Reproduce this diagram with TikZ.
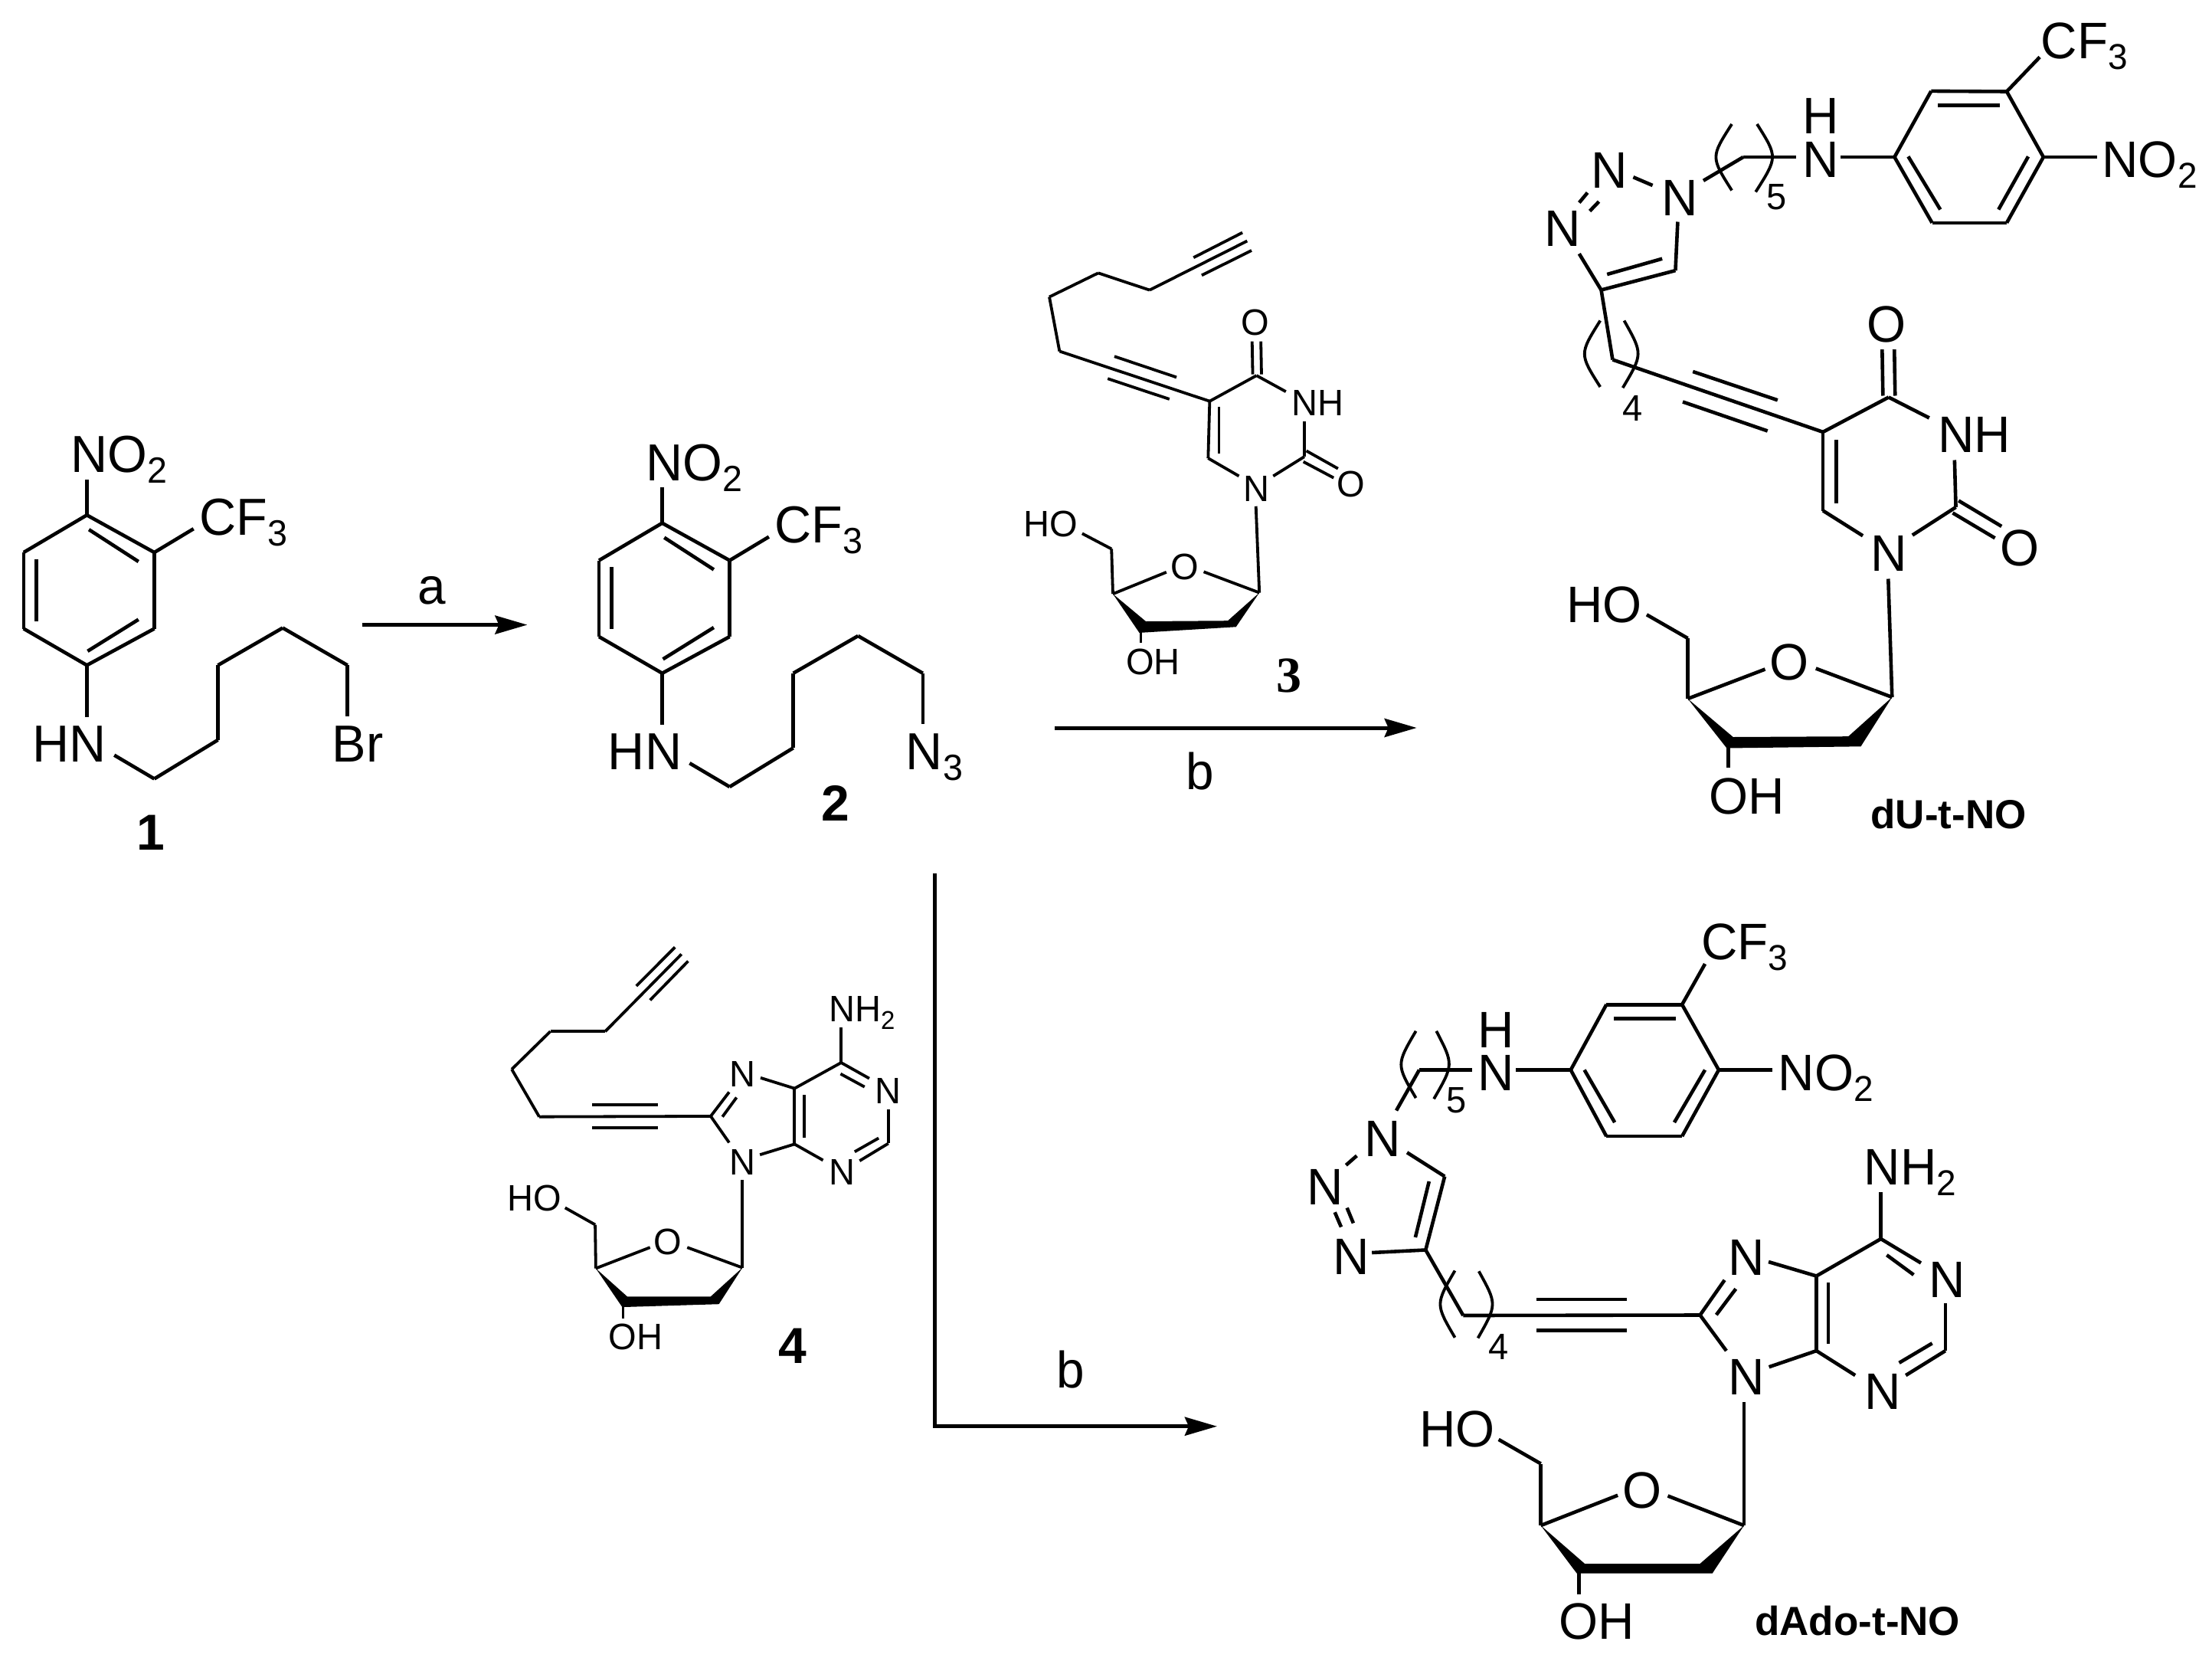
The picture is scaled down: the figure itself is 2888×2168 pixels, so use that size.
\documentclass[tikz,border=0pt]{standalone}
\usepackage{fontspec}
\usepackage{graphicx}
\setmainfont{Liberation Sans}[FakeStretch=0.98]
\newfontfamily\labelfam{Liberation Sans}
\newfontfamily\serifbold{Liberation Serif}
\usetikzlibrary{arrows.meta}
\newcommand\subs[1]{\raisebox{-0.21em}{\scalebox{0.7}{#1}}}
\newcommand\atoms[1]{\foreach \n/\px/\py in {#1} {\coordinate (\n) at (\px,\py);}}
\newcommand\bonds[1]{\foreach \p/\q in {#1} {\draw[bond] (\p) -- (\q);}}
\newcommand\lab[4]{\node[lbl,anchor=base west,xshift=-1.5pt] (#1) at (#2,#3) {#4};}
\newcommand\labc[4]{\node[lbl,anchor=base] (#1) at (#2,#3) {#4};}
\newcommand\halide{%
  \atoms{r1/114/673, r2/202.5/722, r3/202.5/822, r4/114/870, r5/31/822, r6/31/722,
    i1/116.7/692, i2/181.7/734, i3/47.5/731, i4/47.5/812, i5/181.7/810, i6/115/851.5,
    nE/114/626.5, cE/254/691, hE/114/938, hS/150/988,
    k1/202.5/1019, k2/286/968, k3/286/870, k4/371/821, k5/456/870, k6/456/937}
  \bonds{r1/r2, r2/r3, r3/r4, r4/r5, r5/r6, r6/r1, i1/i2, i3/i4, i5/i6, r1/nE, r2/cE, r4/hE,
    hS/k1, k1/k2, k2/k3, k3/k4, k4/k5, k5/k6}
  \lab{no}{96}{617}{NO\subs{2}}
  \lab{cf}{265}{699}{CF\subs{3}}
  \lab{hn}{46}{996.5}{HN}
}
\tikzset{
  bond/.style={line width=2.2pt,line join=miter,line cap=butt},
  lbl/.style={inner sep=0pt,outer sep=0pt,text=black},
  bigtext/.style={every node/.append style={font=\fontsize{34}{34}\selectfont},bond/.append style={line width=2.3pt}},
  midtext/.style={every node/.append style={font=\fontsize{33.5}{33.5}\selectfont},bond/.append style={line width=2.3pt}},
  smalltext/.style={every node/.append style={font=\fontsize{24}{24}\selectfont},bond/.append style={line width=1.9pt}},
  reaction/.style={line width=2.5pt,-{Stealth[length=21pt,width=12pt,inset=2.5pt]}},
  numbold/.style={font=\fontsize{33}{33}\selectfont\labelfam\bfseries},
  numserif/.style={font=\fontsize{33}{33}\selectfont\serifbold\bfseries},
  namebold/.style={font=\fontsize{26.5}{26.5}\selectfont\labelfam\bfseries},
  reagent/.style={font=\fontsize{33.5}{33.5}\selectfont},
  repeatn/.style={font=\fontsize{24}{24}\selectfont},
  zoomcorr/.style={scale=0.9949},
}
\begin{document}
\begin{tikzpicture}[x=0.5pt,y=-0.5pt]
\fill[white] (0,0) rectangle (2888,2168);
\useasboundingbox (0,0) rectangle (2888,2168);

\begin{scope}[shift={(0,2.75)},zoomcorr]
% ---------- compound 1
\begin{scope}[bigtext,name prefix=a-]
  \halide
  \lab{br}{439}{996.5}{Br}
\end{scope}
% ---------- compound 2
\begin{scope}[bigtext,name prefix=b-,shift={(755,10.5)}]
  \halide
  \lab{az}{437}{996}{N\subs{3}}
\end{scope}
\node[lbl,numbold,anchor=base] (n1) at (198,1112) {1};
\node[lbl,numbold,anchor=base] (n2) at (1096,1074.6) {2};
\atoms{ra1/475/817, ra2/692/817}
\draw[reaction] (ra1) -- (ra2);
\node[lbl,reagent,anchor=base] (ta) at (567,790) {a};
\end{scope}

% ---------- arrows
\atoms{rb1/1377/950, rb2/1849.7/950, rc1/1220.7/1140, rc2/1589/1861.7}
\draw[reaction] (rb1) -- (rb2);
\draw[reaction] (rc1) |- (rc2);
\node[lbl,reagent,anchor=base west] (tb) at (1548.6,1030.3) {b};
\node[lbl,reagent,anchor=base west] (tc) at (1379,1811.7) {b};

% ---------- compound 3
\begin{scope}[smalltext,name prefix=c-,shift={(6.63,1.17)},zoomcorr]
  \atoms{t1/1630/315, t0/1502/379.4, ta1/1559.6/336.8, ta2/1623.8/304, tb1/1570.4/360, tb2/1635.8/327.4,
    h1/1434.6/357, h2/1370.4/388.4, h3/1383.8/459.7, C5/1580.8/525.2,
    q1/1455.8/466.4, q2/1537.3/493.8, s1/1447/495.6, s2/1528/522.5,
    C4/1642.3/491.5, o1/1636.5/446.7, o2/1637.3/490, o3/1648/446.7, o4/1648.8/490,
    n3a/1680.8/512.6, n3b/1705/551.7, C2/1705/598, e1/1707.7/590.3, e2/1749.2/613.6, e3/1703.8/604.6, e4/1743.5/625.7,
    n1a/1664.2/623.4, n1b/1619.2/623.4, C6/1578.8/600, d1/1593/532.8, d2/1593/593.4,
    n1c/1641.5/663, C1/1646/776.4, oa/1573/749, ob/1524/749.5, C4s/1453.8/778,
    C5s/1452/719, hoE/1413.5/698.8, w2/1497/814, w3/1604.6/813.2, w4/1615.4/821.3, w5/1488.5/829,
    oh1/1490.4/826.7, oh2/1490.4/842.4}
  \bonds{t1/t0, ta1/ta2, tb1/tb2, t0/h1, h1/h2, h2/h3, h3/C5, q1/q2, s1/s2, C5/C4, o1/o2, o3/o4, C4/n3a, n3b/C2,
    e1/e2, e3/e4, C2/n1a, n1b/C6, C6/C5, d1/d2, n1c/C1, C1/oa, ob/C4s, C4s/C5s, C5s/hoE, oh1/oh2}
  \fill (C4s) -- (w2) -- (w3) -- (C1) -- (w4) -- (w5) -- cycle;
  \labc{ot}{1641}{438.6}{O}
  \lab{nh}{1691.5}{544}{NH}
  \labc{or}{1766.5}{650.4}{O}
  \lab{nn}{1628}{656.2}{N}
  \labc{os}{1548.5}{759.4}{O}
  \lab{ho}{1339.6}{703.3}{HO}
  \lab{oh}{1474}{884}{OH}
  \node[lbl,numserif,anchor=base] (n3) at (1684.6,907.4) {3};
\end{scope}

% ---------- compound 4
\begin{scope}[smalltext,name prefix=d-,shift={(3.06,6.12)},zoomcorr]
  \atoms{t1/891.2/1245.7, t0/791.2/1347, ta1/832/1287.4, ta2/882.7/1236.6, tb1/850/1306, tb2/900/1254.8,
    h1/719.2/1347, h2/668.5/1396.7, h3/704.6/1459, C8/929.6/1458.3,
    q1/774.2/1443.6, q2/860.4/1443.6, s1/774.2/1473.8, s2/860.4/1473.8,
    n7a/953.8/1426.6, j1/945/1459, j2/963.5/1433.7, n7b/995/1407.9, C5/1039.6/1421.8, C4/1039.6/1494.9,
    j3/1052/1430.5, j4/1052/1486, C6/1100.8/1388, am/1100.8/1341.9, n1a/1137.7/1408.7, j5/1100/1402.7, j6/1131.5/1419.8,
    n1b/1162.7/1449.2, C2/1162.7/1494, n3a/1125/1516.8, j7/1150/1487, j8/1118.5/1504.9, n3b/1077/1516,
    n9a/994.2/1508.8, n9b/953.8/1492.9, n9c/971.2/1541.8, C1/971.2/1657,
    oa/898.8/1630.4, ob/850/1630.4, C4s/778.8/1657.9, C5s/778/1600.6, hoE/738.5/1578.4,
    w2/820/1694.8, w3/929.6/1694.8, w4/940.4/1704.8, w5/813.5/1708.7, oh1/814.6/1706, oh2/814.6/1723.4}
  \bonds{t1/t0, ta1/ta2, tb1/tb2, t0/h1, h1/h2, h2/h3, h3/C8, q1/q2, s1/s2, C8/n7a, j1/j2, n7b/C5, C5/C4, j3/j4,
    C5/C6, C6/am, C6/n1a, j5/j6, n1b/C2, C2/n3a, j7/j8, n3b/C4, C4/n9a, n9b/C8, n9c/C1, C1/oa, ob/C4s, C4s/C5s, C5s/hoE, oh1/oh2}
  \fill (C4s) -- (w2) -- (w3) -- (C1) -- (w4) -- (w5) -- cycle;
  \lab{nh}{1087.7}{1334.3}{NH\subs{2}}
  \lab{nse}{957.7}{1419.8}{N}
  \lab{nni}{957.7}{1534.7}{N}
  \lab{nei}{1148}{1441.3}{N}
  \lab{nth}{1087.7}{1548.6}{N}
  \labc{os}{873.5}{1640}{O}
  \lab{ho}{665.4}{1582.8}{HO}
  \lab{oh}{798.8}{1764.4}{OH}
  \node[lbl,numbold,anchor=base] (n4) at (1037.3,1782.3) {4};
\end{scope}

% ---------- dU-t-NO
\begin{scope}[midtext,name prefix=e-,shift={(9.95,-1.5)},xscale=0.9949]
  \atoms{cE/2666.8/76, ra/2623.5/121, rb/2524.3/120.4, rc/2476.2/206.5, rd/2525.5/292.3, re/2623.5/292.3, rf/2671.6/206.5,
    i1/2533.3/139.2, i2/2614.5/139.2, i3/2494.2/205.8, i4/2536.3/275, i5/2651.7/205.8, i6/2612.7/275,
    nE/2742/206.5, hnE/2405.2/206.5, ch0/2346.9/206.5, ch1/2277.7/206.5, ch2/2225.4/237.3,
    n12a/2158.7/243.5, n12b/2133.4/232.7, f1/2073.3/253, f2/2062.4/266, f3/2088.3/264.6, f4/2076.3/277,
    n3E/2062.4/332.7, tC4/2091.3/380, tC5/2188.7/354.6, n1E/2191.7/291, g1/2099/359.6, g2/2171.3/339.2,
    l1/2106.3/471, C5/2382.3/565.4, q1/2211.6/486.5, q2/2322.8/523.8, s1/2198.3/526, s2/2309.6/564,
    C4/2468.5/520, o1/2460/457.7, o2/2461/518, o3/2476/457.7, o4/2477/518,
    n3a/2521.8/547, n3b/2555/602, C2/2556.7/663.5, e1/2560.3/655, e2/2616.7/688.5, e3/2552.6/671, e4/2608/703.8,
    n1a/2499.7/700, n1b/2434.6/700.8, C6/2382.3/668, d1/2399.7/575.8, d2/2399.7/658.8,
    n1c/2468/757, C1/2473/911.5, oa/2373/874, ob/2306.4/875, C4s/2204.9/913.5, C5s/2204.9/834.6, hoE/2151/803.8,
    w2/2264.4/963.5, w3/2415.6/962.7, w4/2432/975.8, w5/2256/978, oh1/2258.2/976, oh2/2258.2/1003.8,
    pa1/2262.7/163.5, pa2/2235/206.5, pa3/2262.7/250, pb1/2295.8/163.5, pb2/2323/206.5, pb3/2294/252,
    pc1/2090/420, pc2/2062.6/463.5, pc3/2090/506.5, pd1/2121.4/420, pd2/2146/463.5, pd3/2119.6/507.7}
  \bonds{cE/ra, ra/rb, rb/rc, rc/rd, rd/re, re/rf, rf/ra, i1/i2, i3/i4, i5/i6, rf/nE, hnE/rc, ch0/ch1, ch1/ch2,
    n12a/n12b, f1/f2, f3/f4, n3E/tC4, tC4/tC5, tC5/n1E, g1/g2, tC4/l1, l1/C5, q1/q2, s1/s2, C5/C4, o1/o2, o3/o4,
    C4/n3a, n3b/C2, e1/e2, e3/e4, C2/n1a, n1b/C6, C6/C5, d1/d2, n1c/C1, C1/oa, ob/C4s, C4s/C5s, C5s/hoE, oh1/oh2}
  \fill (C4s) -- (w2) -- (w3) -- (C1) -- (w4) -- (w5) -- cycle;
  \draw[bond,line width=1.9pt] (pa1) .. controls (pa2) .. (pa3);
  \draw[bond,line width=1.9pt] (pb1) .. controls (pb2) .. (pb3);
  \draw[bond,line width=1.9pt] (pc1) .. controls (pc2) .. (pc3);
  \draw[bond,line width=1.9pt] (pd1) .. controls (pd2) .. (pd3);
  \lab{cf}{2671.6}{78}{CF\subs{3}}
  \lab{no}{2751.6}{232.7}{NO\subs{2}}
  \lab{nn}{2359}{232.7}{N}
  \lab{hh}{2359}{176}{H}
  \node[lbl,repeatn,anchor=base] (five) at (2321.6,275) {5};
  \node[lbl,repeatn,anchor=base] (four) at (2132,551) {4};
  \lab{na}{2173.7}{282.7}{N}
  \lab{nb}{2081}{247}{N}
  \lab{nc}{2020}{323}{N}
  \labc{ot}{2466}{448}{O}
  \lab{nh}{2536}{592.3}{NH}
  \labc{or}{2640.8}{739.6}{O}
  \lab{nd}{2448.5}{747}{N}
  \labc{os}{2338.2}{889}{O}
  \lab{ho}{2049}{813.5}{HO}
  \lab{oh}{2235.6}{1063.5}{OH}
  \node[lbl,namebold,anchor=base west] (nameu) at (2444.9,1083) {dU-t-NO};
\end{scope}

% ---------- dAdo-t-NO
\begin{scope}[midtext,name prefix=f-,shift={(8.67,-1.5)},xscale=0.9949]
  \atoms{cE/2228.8/1259.6, ra/2198.7/1312.7, rb/2099.4/1312.7, rc/2052.6/1398, rd/2099.4/1484.6, re/2198.7/1484.6, rf/2246.8/1398,
    i1/2109/1331, i2/2190.4/1331, i3/2070.5/1398, i4/2110.3/1466.5, i5/2228.8/1398, i6/2188.5/1466.5,
    nE/2317.3/1398, hnE/1980.8/1398, ch0/1923/1398, ch1/1853.8/1398, ch2/1823.7/1451,
    n12a/1771.8/1510, n12b/1757.7/1522.3, f1/1743/1583.8, f2/1751.3/1603, f3/1759/1578, f4/1767.3/1598,
    n3E/1791.7/1636.5, tC4/1862.2/1633, tC5/1887.2/1537, n1E/1837.8/1505.8, g1/1848.7/1616.5, g2/1866.7/1543.5,
    l1/1911.5/1718.5, C8/2222.3/1718, q1/2007.7/1697.3, q2/2126.3/1697.3, s1/2007.7/1737.7, s2/2126.3/1737.7,
    n7a/2254.5/1672.3, j1/2243.6/1717.7, j2/2269.2/1683.8, n7b/2312.2/1648.5, C5/2375/1667, C4/2375/1764.6,
    j3/2390.7/1675.4, j4/2390.7/1755.9, C6/2459.6/1618.5, am/2459.6/1557, n1a/2512.2/1650, j5/2467.3/1639.6, j6/2502.6/1665.4,
    n1b/2544.2/1702, C2/2544.2/1764.6, n3a/2492.3/1796.6, j7/2526.9/1754.8, j8/2483.6/1780.3, n3b/2425.9/1796.6,
    n9a/2312.8/1785.7, n9b/2256.8/1764.6, n9c/2280/1831.2, C1/2280/1992.6,
    oa/2180/1954, ob/2114.3/1953.2, C4s/2013.3/1992.6, C5s/2013.3/1912, hoE/1958/1880.4,
    w2/2071/2042.5, w3/2222.2/2042.5, w4/2238.4/2055.2, w5/2060.6/2055.2, oh1/2063.5/2053, oh2/2063.5/2082.5,
    pa1/1849.4/1347.3, pa2/1823.6/1391, pa3/1849.4/1434.6, pb1/1876.3/1347.3, pb2/1899/1391, pb3/1873/1435.8,
    pc1/1900.6/1660, pc2/1875/1703.7, pc3/1900.6/1747.3, pd1/1932/1660.8, pd2/1956/1704, pd3/1930.8/1748}
  \bonds{cE/ra, ra/rb, rb/rc, rc/rd, rd/re, re/rf, rf/ra, i1/i2, i3/i4, i5/i6, rf/nE, hnE/rc, ch0/ch1, ch1/ch2,
    n12a/n12b, f1/f2, f3/f4, n3E/tC4, tC4/tC5, tC5/n1E, g1/g2, tC4/l1, l1/C8, q1/q2, s1/s2,
    C8/n7a, j1/j2, n7b/C5, C5/C4, j3/j4, C5/C6, C6/am, C6/n1a, j5/j6, n1b/C2, C2/n3a, j7/j8, n3b/C4, C4/n9a, n9b/C8,
    n9c/C1, C1/oa, ob/C4s, C4s/C5s, C5s/hoE, oh1/oh2}
  \fill (C4s) -- (w2) -- (w3) -- (C1) -- (w4) -- (w5) -- cycle;
  \draw[bond,line width=1.9pt] (pa1) .. controls (pa2) .. (pa3);
  \draw[bond,line width=1.9pt] (pb1) .. controls (pb2) .. (pb3);
  \draw[bond,line width=1.9pt] (pc1) .. controls (pc2) .. (pc3);
  \draw[bond,line width=1.9pt] (pd1) .. controls (pd2) .. (pd3);
  \lab{cf}{2227}{1254.2}{CF\subs{3}}
  \lab{no}{2328}{1425}{NO\subs{2}}
  \lab{nn}{1934}{1425}{N}
  \lab{hh}{1934}{1368.5}{H}
  \node[lbl,repeatn,anchor=base] (five) at (1903,1453.8) {5};
  \node[lbl,repeatn,anchor=base] (four) at (1958.3,1776) {4};
  \lab{na}{1785.3}{1510.8}{N}
  \lab{nb}{1709.6}{1573.5}{N}
  \lab{nc}{1743.6}{1664.6}{N}
  \lab{nse}{2262}{1665.8}{N}
  \lab{nh}{2440.4}{1548}{NH\subs{2}}
  \lab{nei}{2525.6}{1695.4}{N}
  \lab{nth}{2441.5}{1841}{N}
  \lab{nni}{2262.6}{1822}{N}
  \labc{os}{2146}{1969.6}{O}
  \lab{ho}{1857}{1889.5}{HO}
  \lab{oh}{2040.4}{2140.8}{OH}
  \node[lbl,namebold,anchor=base west] (namea) at (2294.3,2136) {dAdo-t-NO};
\end{scope}
\end{tikzpicture}
\end{document}
